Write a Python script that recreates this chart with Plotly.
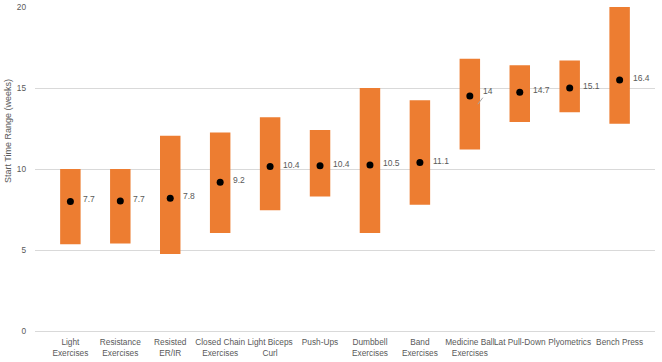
import plotly.graph_objects as go

categories = ["Light<br>Exercises", "Resistance<br>Exercises", "Resisted<br>ER/IR",
              "Closed Chain<br>Exercises", "Light Biceps<br>Curl", "Push-Ups",
              "Dumbbell<br>Exercises", "Band<br>Exercises", "Medicine Ball<br>Exercises",
              "Lat Pull-Down", "Plyometrics", "Bench Press"]
range_low = [5.35, 5.4, 4.75, 6.05, 7.45, 8.3, 6.05, 7.8, 11.2, 12.9, 13.5, 12.8]
range_high = [10.0, 10.0, 12.05, 12.25, 13.2, 12.4, 15.0, 14.25, 16.8, 16.4, 16.7, 20.05]
dot_values = [8.0, 8.02, 8.2, 9.18, 10.15, 10.2, 10.25, 10.4, 14.5, 14.73, 15.0, 15.5]
label_values = [7.7, 7.7, 7.8, 9.2, 10.4, 10.4, 10.5, 11.1, 14, 14.7, 15.1, 16.4]
y_title = "Start Time Range (weeks)"

FONT = "Liberation Sans"
GREY = "#595959"

fig = go.Figure()
fig.add_trace(go.Bar(
    x=categories,
    y=[h - l for h, l in zip(range_high, range_low)],
    base=range_low,
    width=0.41,
    marker=dict(color="#ED7D31", line=dict(width=0)),
    hoverinfo="skip",
))
fig.add_trace(go.Scatter(
    x=categories, y=dot_values, mode="markers",
    marker=dict(color="black", size=7),
    cliponaxis=False,
))

for cat, dv, lv in zip(categories, dot_values, label_values):
    if lv == 14:
        fig.add_annotation(x=cat, y=lv, xshift=8, text="14", showarrow=True,
                           arrowhead=0, arrowwidth=1, arrowcolor="#A6A6A6",
                           ax=10, ay=-13, font=dict(family=FONT, size=8.5, color=GREY))
    else:
        fig.add_annotation(x=cat, y=dv, text=f"{lv:g}", showarrow=False,
                           xanchor="left", xshift=11, yshift=2,
                           font=dict(family=FONT, size=8.5, color=GREY))

# y-axis title (placed as in the reference: left edge, upper-middle)
fig.add_annotation(xref="paper", yref="paper", x=-0.0435, y=0.617,
                   text=y_title, textangle=-90, showarrow=False,
                   xanchor="center", yanchor="middle",
                   font=dict(family=FONT, size=9, color=GREY))

fig.update_layout(
    width=662, height=362,
    margin=dict(l=35, r=7, t=7, b=31, autoexpand=False),
    paper_bgcolor="white", plot_bgcolor="white",
    showlegend=False,
    bargap=0.59,
    font=dict(family=FONT, size=8, color=GREY),
)
fig.update_xaxes(
    automargin=False,
    tickangle=0, showgrid=False, showline=True, linecolor="#D9D9D9", linewidth=1,
    ticks="", ticklabelstandoff=3,
    tickfont=dict(family=FONT, size=8.3, color=GREY),
)
fig.update_yaxes(
    automargin=False,
    range=[0, 20], dtick=5, showgrid=True, gridcolor="#D9D9D9", gridwidth=1,
    zeroline=False, showline=False, ticks="", ticklabelstandoff=8,
    tickfont=dict(family=FONT, size=8.3, color=GREY),
)

fig.write_html("out.html", config={"displayModeBar": False},
               post_script="document.body.style.margin='0';document.body.style.padding='0';")
